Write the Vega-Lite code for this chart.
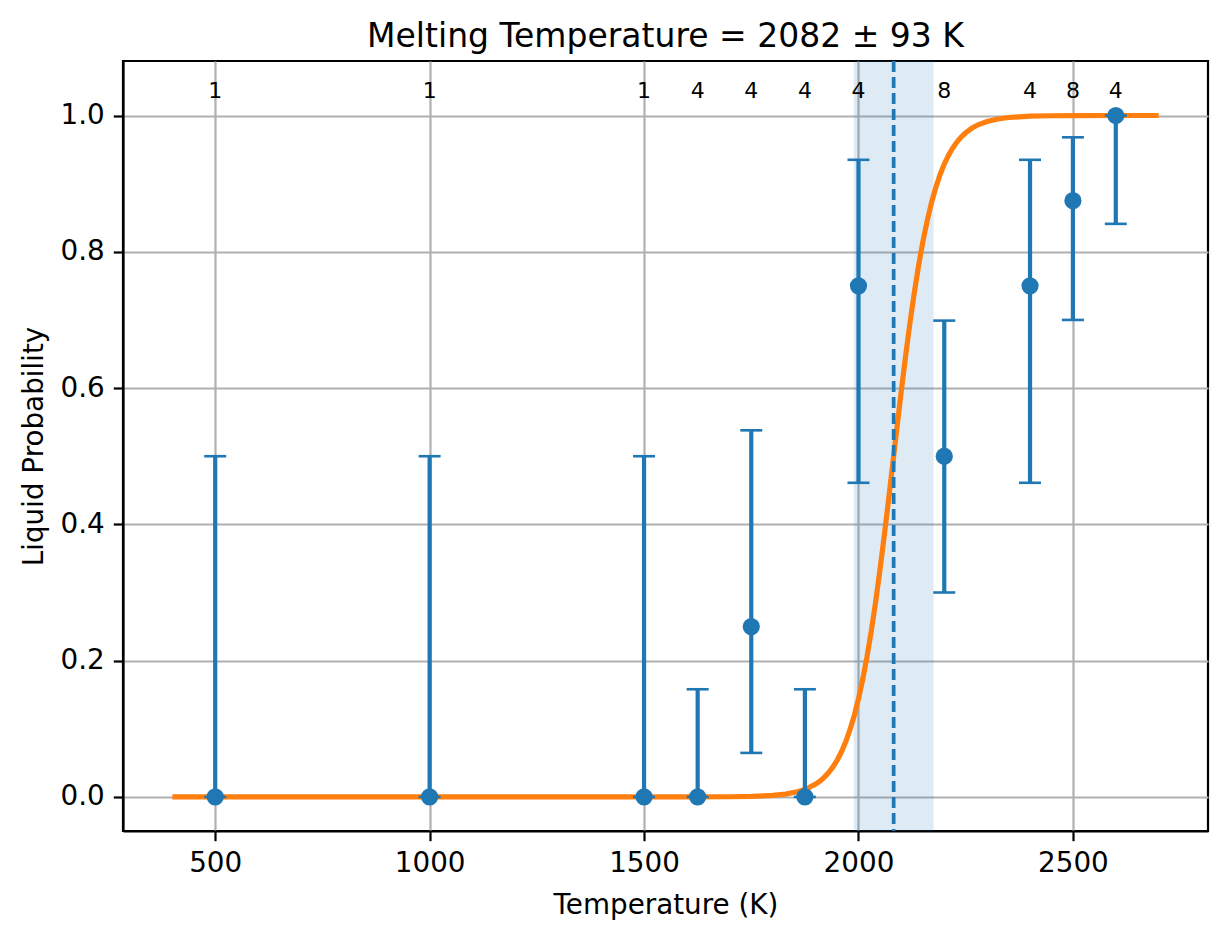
{
  "$schema": "https://vega.github.io/schema/vega-lite/v6.json",
  "description": "Liquid probability vs temperature with logistic fit",
  "autosize": {"type": "none"},
  "padding": {"left": 123, "top": 61, "right": 19, "bottom": 108},
  "width": 1085,
  "height": 770,
  "title": {
    "text": "Melting Temperature = 2082 ± 93 K",
    "fontSize": 33,
    "font": "DejaVu Sans",
    "fontWeight": "normal",
    "color": "black",
    "anchor": "middle",
    "baseline": "bottom",
    "offset": 9,
    "dy": 37
  },
  "datasets": {
    "runs": [
      {"T": 500, "p": 0, "lo": 0, "hi": 0.5, "n": "1"},
      {"T": 1000, "p": 0, "lo": 0, "hi": 0.5, "n": "1"},
      {"T": 1500, "p": 0, "lo": 0, "hi": 0.5, "n": "1"},
      {"T": 1625, "p": 0, "lo": 0, "hi": 0.158, "n": "4"},
      {"T": 1750, "p": 0.25, "lo": 0.0646, "hi": 0.538, "n": "4"},
      {"T": 1875, "p": 0, "lo": 0, "hi": 0.158, "n": "4"},
      {"T": 2000, "p": 0.75, "lo": 0.461, "hi": 0.935, "n": "4"},
      {"T": 2200, "p": 0.5, "lo": 0.3, "hi": 0.699, "n": "8"},
      {"T": 2400, "p": 0.75, "lo": 0.461, "hi": 0.935, "n": "4"},
      {"T": 2500, "p": 0.875, "lo": 0.7, "hi": 0.968, "n": "8"},
      {"T": 2600, "p": 1.0, "lo": 0.841, "hi": 1.0, "n": "4"}
    ],
    "fit": [
      {"T": 400, "p": 0},
      {"T": 1000, "p": 0},
      {"T": 1500, "p": 0},
      {"T": 1600, "p": 0.00003},
      {"T": 1700, "p": 0.000247},
      {"T": 1750, "p": 0.000733},
      {"T": 1800, "p": 0.002171},
      {"T": 1830, "p": 0.004159},
      {"T": 1860, "p": 0.007955},
      {"T": 1880, "p": 0.01224},
      {"T": 1900, "p": 0.01876},
      {"T": 1910, "p": 0.02322},
      {"T": 1920, "p": 0.0287},
      {"T": 1930, "p": 0.03542},
      {"T": 1940, "p": 0.04365},
      {"T": 1950, "p": 0.05368},
      {"T": 1960, "p": 0.06588},
      {"T": 1970, "p": 0.08058},
      {"T": 1980, "p": 0.09823},
      {"T": 1990, "p": 0.1192},
      {"T": 2000, "p": 0.144},
      {"T": 2010, "p": 0.1729},
      {"T": 2020, "p": 0.2062},
      {"T": 2030, "p": 0.2441},
      {"T": 2040, "p": 0.2864},
      {"T": 2050, "p": 0.3328},
      {"T": 2060, "p": 0.3827},
      {"T": 2070, "p": 0.4352},
      {"T": 2080, "p": 0.4891},
      {"T": 2090, "p": 0.5434},
      {"T": 2100, "p": 0.5966},
      {"T": 2110, "p": 0.6477},
      {"T": 2120, "p": 0.6955},
      {"T": 2130, "p": 0.7395},
      {"T": 2140, "p": 0.7792},
      {"T": 2150, "p": 0.8143},
      {"T": 2160, "p": 0.8449},
      {"T": 2170, "p": 0.8714},
      {"T": 2180, "p": 0.8938},
      {"T": 2190, "p": 0.9127},
      {"T": 2200, "p": 0.9286},
      {"T": 2210, "p": 0.9417},
      {"T": 2220, "p": 0.9526},
      {"T": 2230, "p": 0.9615},
      {"T": 2240, "p": 0.9688},
      {"T": 2250, "p": 0.9747},
      {"T": 2265, "p": 0.9816},
      {"T": 2280, "p": 0.9867},
      {"T": 2300, "p": 0.9913},
      {"T": 2325, "p": 0.9949},
      {"T": 2350, "p": 0.9971},
      {"T": 2400, "p": 0.999},
      {"T": 2450, "p": 0.99966},
      {"T": 2500, "p": 0.99989},
      {"T": 2600, "p": 1.0},
      {"T": 2700, "p": 1.0}
    ],
    "band": [{"lo": 1989, "hi": 2175, "Tm": 2082}]
  },
  "encoding": {
    "x": {
      "type": "quantitative",
      "scale": {"domain": [285, 2815], "nice": false, "zero": false},
      "axis": {
        "values": [500, 1000, 1500, 2000, 2500],
        "format": "d",
        "title": "Temperature (K)",
        "labelPadding": 9,
        "titlePadding": 14
      }
    },
    "y": {
      "type": "quantitative",
      "scale": {"domain": [-0.05, 1.08], "nice": false, "zero": false},
      "axis": {
        "values": [0, 0.2, 0.4, 0.6, 0.8, 1.0],
        "format": ".1f",
        "title": "Liquid Probability",
        "labelPadding": 9,
        "titlePadding": 12
      }
    }
  },
  "layer": [
    {
      "data": {"name": "band"},
      "mark": {"type": "rect", "color": "#1f77b4", "opacity": 0.15},
      "encoding": {"x": {"field": "lo"}, "x2": {"field": "hi"}, "y": null}
    },
    {
      "data": {"name": "fit"},
      "mark": {"type": "line", "color": "#ff7f0e", "strokeWidth": 5.2},
      "encoding": {"x": {"field": "T"}, "y": {"field": "p"}}
    },
    {
      "data": {"name": "band"},
      "mark": {"type": "rule", "color": "#1f77b4", "strokeWidth": 3.7, "strokeDash": [11, 5]},
      "encoding": {"x": {"field": "Tm"}, "y": null}
    },
    {
      "data": {"name": "runs"},
      "mark": {"type": "rule", "color": "#1f77b4", "strokeWidth": 4.2},
      "encoding": {"x": {"field": "T"}, "y": {"field": "lo"}, "y2": {"field": "hi"}}
    },
    {
      "data": {"name": "runs"},
      "mark": {"type": "tick", "orient": "horizontal", "color": "#1f77b4", "size": 22, "thickness": 2.6, "opacity": 1},
      "encoding": {"x": {"field": "T"}, "y": {"field": "hi"}}
    },
    {
      "data": {"name": "runs"},
      "mark": {"type": "tick", "orient": "horizontal", "color": "#1f77b4", "size": 22, "thickness": 2.6, "opacity": 1},
      "encoding": {"x": {"field": "T"}, "y": {"field": "lo"}}
    },
    {
      "data": {"name": "runs"},
      "mark": {"type": "circle", "color": "#1f77b4", "size": 296, "opacity": 1},
      "encoding": {"x": {"field": "T"}, "y": {"field": "p"}}
    },
    {
      "data": {"name": "runs"},
      "mark": {"type": "text", "fontSize": 22, "baseline": "alphabetic", "align": "center", "color": "black"},
      "encoding": {"x": {"field": "T"}, "y": {"datum": 1.026}, "text": {"field": "n"}}
    }
  ],
  "config": {
    "font": "DejaVu Sans",
    "view": {"stroke": "black", "strokeWidth": 2.2},
    "axis": {
      "labelFont": "DejaVu Sans",
      "labelFontSize": 27.8,
      "labelColor": "black",
      "titleFont": "DejaVu Sans",
      "titleFontSize": 27.8,
      "titleFontWeight": "normal",
      "titleColor": "black",
      "tickColor": "black",
      "tickSize": 9.7,
      "tickWidth": 2.2,
      "domainColor": "black",
      "domainWidth": 2.2,
      "grid": true,
      "gridColor": "#b0b0b0",
      "gridWidth": 2.2,
      "labelFlush": false,
      "labelOverlap": false
    }
  }
}
